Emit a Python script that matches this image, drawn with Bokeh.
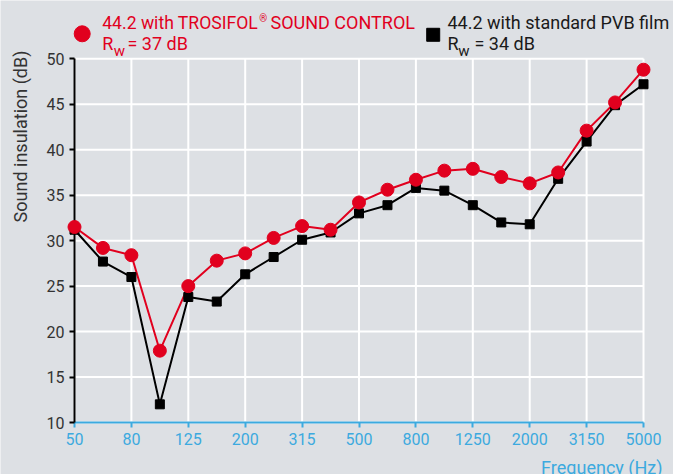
import math
from bokeh.plotting import figure
from bokeh.models import FixedTicker, Label, Range1d
from bokeh.embed import file_html
from bokeh.resources import INLINE

# ---- data ----
frequencies = [50, 63, 80, 100, 125, 160, 200, 250, 315, 400, 500, 630,
               800, 1000, 1250, 1600, 2000, 2500, 3150, 4000, 5000]
trosifol_db = [31.5, 29.2, 28.4, 17.9, 25.0, 27.8, 28.6, 30.3, 31.6, 31.2, 34.2,
               35.6, 36.7, 37.7, 37.9, 37.0, 36.3, 37.5, 42.1, 45.2, 48.8]
standard_db = [31.2, 27.7, 26.0, 12.0, 23.8, 23.3, 26.3, 28.2, 30.1, 30.9, 33.0,
               33.9, 35.8, 35.5, 33.9, 32.0, 31.8, 36.8, 40.9, 44.9, 47.2]
x_tick_labels = ["50", "80", "125", "200", "315", "500", "800", "1250", "2000", "3150", "5000"]
y_ticks = [10, 15, 20, 25, 30, 35, 40, 45, 50]
series_names = ["44.2 with TROSIFOL", "44.2 with standard PVB film"]
rw_values = ["= 37 dB", "= 34 dB"]

BG = "#dde0e4"
RED = "#e1001e"
BLUE = "#3caadf"
DARK = "#1a1a1a"
FONT = "Roboto"

xs = list(range(len(frequencies)))
tick_pos = [i for i in xs if i % 2 == 0]
y0, y1 = y_ticks[0], y_ticks[-1]

# whole canvas is the frame; axes are pinned at x=0 / y=10
p = figure(width=673, height=474,
           x_range=Range1d(-2.601, 21.054), y_range=Range1d(4.281, 56.412),
           output_backend="svg", toolbar_location=None, min_border=0)
p.background_fill_color = BG
p.border_fill_color = BG
p.outline_line_color = None
p.xgrid.visible = False
p.ygrid.visible = False

# grid lines (limited to the data area)
n, m = len(tick_pos), len(y_ticks)
p.segment(x0=tick_pos, y0=[y0] * n, x1=tick_pos, y1=[y1] * n,
          line_color="white", line_width=2)
p.segment(x0=[xs[0]] * m, y0=y_ticks, x1=[xs[-1]] * m, y1=y_ticks,
          line_color="white", line_width=2)

# x axis
xa = p.xaxis[0]
xa.fixed_location = y0
xa.bounds = (xs[0], xs[-1])
xa.ticker = FixedTicker(ticks=tick_pos)
xa.major_label_overrides = {pos: lab for pos, lab in zip(tick_pos, x_tick_labels)}
xa.axis_line_color = BLUE
xa.axis_line_width = 2
xa.major_tick_line_color = BLUE
xa.major_tick_line_width = 2
xa.major_tick_out = 5
xa.major_tick_in = 0
xa.minor_tick_line_color = None
xa.major_label_text_color = BLUE
xa.major_label_text_font = FONT
xa.major_label_text_font_size = "16px"
xa.major_label_standoff = 5

# y axis
ya = p.yaxis[0]
ya.fixed_location = xs[0]
ya.bounds = (y0, y1)
ya.ticker = FixedTicker(ticks=y_ticks)
ya.axis_line_color = "black"
ya.axis_line_width = 2
ya.major_tick_line_color = "black"
ya.major_tick_line_width = 2
ya.major_tick_out = 5
ya.major_tick_in = 0
ya.minor_tick_line_color = None
ya.major_label_text_color = "#333333"
ya.major_label_text_font = FONT
ya.major_label_text_font_size = "16px"
ya.major_label_standoff = 5

# series
p.line(xs, standard_db, line_color="black", line_width=2)
p.line(xs, trosifol_db, line_color=RED, line_width=2)
sq = p.scatter(xs, standard_db, marker="square", size=9, fill_color="black", line_color="black")
sq.level = "overlay"
ci = p.scatter(xs, trosifol_db, marker="circle", size=13, fill_color=RED, line_color=RED)
ci.level = "overlay"

# legend markers
p.scatter([0.271], [52.75], marker="circle", size=16, fill_color=RED, line_color=RED)
p.scatter([12.608], [52.64], marker="square", size=13, fill_color="black", line_color="black")


def lab(x, y, text, color, size="18px", align="left", baseline="alphabetic", **kw):
    p.add_layout(Label(x=x, y=y, text=text, text_color=color, text_font=FONT,
                       text_font_size=size, text_baseline=baseline,
                       text_align=align, **kw))


# legend texts
lab(0.974, 53.97, series_names[0], RED, size="17.6px")
lab(6.49, 54.45, "®", RED, size="10px")
lab(6.889, 53.97, "SOUND CONTROL", RED)
lab(0.974, 51.63, "R", RED)
lab(1.381, 50.87, "w", RED, size="15px")
lab(1.863, 51.63, rw_values[0], RED)

lab(13.11, 53.97, series_names[1], DARK)
lab(13.11, 51.63, "R", DARK)
lab(13.49, 50.87, "w", DARK, size="15px")
lab(14.06, 51.63, rw_values[1], DARK)

# axis titles
lab(-1.898, 50.91, "Sound insulation (dB)", "#333333", align="right", baseline="middle",
    angle=math.pi / 2)
lab(20.668, 5.0, "Frequency (Hz)", BLUE, align="right")

open("out.html", "w").write(file_html(p, INLINE))
